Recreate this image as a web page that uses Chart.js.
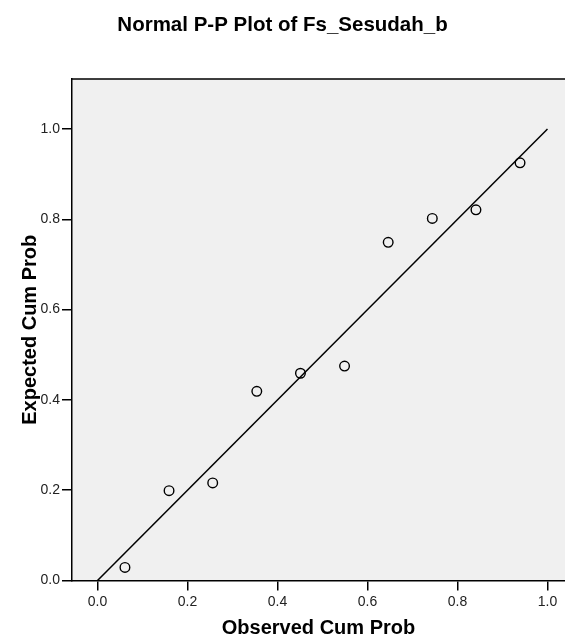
<!DOCTYPE html>
<html>
<head>
<meta charset="utf-8">
<title>Normal P-P Plot of Fs_Sesudah_b</title>
<script src="https://cdn.jsdelivr.net/npm/chart.js@4.4.1/dist/chart.umd.min.js"></script>
<style>
  html, body { margin: 0; padding: 0; background: #ffffff; }
  canvas { display: block; }
</style>
</head>
<body>
<canvas id="pp" width="565" height="640"></canvas>
<script>
// Observed vs expected cumulative probabilities (10 cases)
const observedCumProb = [0.061, 0.159, 0.256, 0.354, 0.451, 0.549, 0.646, 0.744, 0.841, 0.939];
const expectedCumProb = [0.029, 0.199, 0.216, 0.419, 0.459, 0.475, 0.749, 0.802, 0.821, 0.925];
// Reference diagonal
const diagonalX = [0, 1];
const diagonalY = [0, 1];
// Axis tick values
const xTickValues = [0.0, 0.2, 0.4, 0.6, 0.8, 1.0];
const yTickValues = [0.0, 0.2, 0.4, 0.6, 0.8, 1.0];

const FONT = "'Liberation Sans', Arial, Helvetica, sans-serif";

const points = observedCumProb.map((x, i) => ({ x: x, y: expectedCumProb[i] }));
const diagonal = diagonalX.map((x, i) => ({ x: x, y: diagonalY[i] }));

// Light grey plot background plus the top frame line
const plotFrame = {
  id: 'plotFrame',
  beforeDraw(chart) {
    const { ctx, chartArea: a } = chart;
    ctx.save();
    ctx.fillStyle = '#f0f0f0';
    ctx.fillRect(a.left, a.top, a.right - a.left, a.bottom - a.top);
    ctx.restore();
  },
  afterDraw(chart) {
    const { ctx, chartArea: a } = chart;
    ctx.save();
    ctx.strokeStyle = '#000000';
    ctx.lineWidth = 1.5;
    ctx.beginPath();
    ctx.moveTo(a.left, a.top);
    ctx.lineTo(a.right, a.top);
    ctx.stroke();
    ctx.restore();
  }
};

const fixedTicks = values => scale => {
  scale.ticks = values.map(v => ({ value: v }));
};

new Chart(document.getElementById('pp'), {
  type: 'scatter',
  data: {
    datasets: [
      {
        label: 'Diagonal',
        data: diagonal,
        showLine: true,
        borderColor: '#000000',
        borderWidth: 1.5,
        pointRadius: 0,
        fill: false,
        order: 2
      },
      {
        label: 'Observed',
        data: points,
        showLine: false,
        pointStyle: 'circle',
        pointRadius: 4.8,
        pointBorderWidth: 1.4,
        pointBorderColor: '#000000',
        pointBackgroundColor: 'rgba(0,0,0,0)',
        order: 1
      }
    ]
  },
  options: {
    responsive: false,
    animation: false,
    layout: { padding: 0, autoPadding: false },
    plugins: {
      legend: { display: false },
      tooltip: { enabled: false },
      title: {
        display: true,
        text: 'Normal P-P Plot of Fs_Sesudah_b',
        color: '#000000',
        font: { family: FONT, size: 20.5, weight: 'bold', lineHeight: 1.2 },
        padding: { top: 13, bottom: 41.4 }
      }
    },
    scales: {
      x: {
        type: 'linear',
        min: -0.05667,
        max: 1.03889,
        afterBuildTicks: fixedTicks(xTickValues),
        afterFit(scale) {
          scale.height = 59.5;
          scale.paddingLeft = 0;
          scale.paddingRight = 0;
        },
        grid: {
          drawOnChartArea: false,
          drawTicks: true,
          tickLength: 10,
          color: '#000000',
          lineWidth: 1.5
        },
        border: { display: true, color: '#000000', width: 1.5 },
        ticks: {
          padding: 3,
          color: '#222222',
          font: { family: FONT, size: 14 },
          callback: v => Number(v).toFixed(1)
        },
        title: {
          display: true,
          text: 'Observed Cum Prob',
          color: '#000000',
          font: { family: FONT, size: 20, weight: 'bold', lineHeight: 1.2 },
          padding: { top: 0, bottom: 0 }
        }
      },
      y: {
        type: 'linear',
        min: 0,
        max: 1.1107,
        afterBuildTicks: fixedTicks(yTickValues),
        afterFit(scale) {
          scale.width = 72;
          scale.paddingTop = 0;
          scale.paddingBottom = 0;
        },
        grid: {
          drawOnChartArea: false,
          drawTicks: true,
          tickLength: 10,
          color: '#000000',
          lineWidth: 1.5
        },
        border: { display: true, color: '#000000', width: 1.5 },
        ticks: {
          padding: 2,
          color: '#222222',
          font: { family: FONT, size: 14 },
          callback: v => Number(v).toFixed(1)
        },
        title: {
          display: true,
          text: 'Expected Cum Prob',
          color: '#000000',
          font: { family: FONT, size: 20, weight: 'bold', lineHeight: 1.2 },
          padding: { top: 18, bottom: 0 }
        }
      }
    }
  },
  plugins: [plotFrame]
});
</script>
</body>
</html>
